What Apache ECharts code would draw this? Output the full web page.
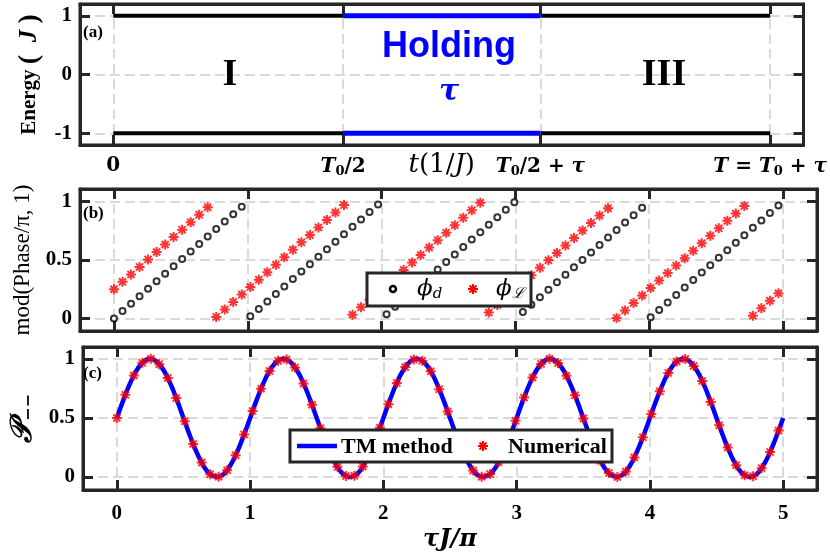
<!DOCTYPE html>
<html><head><meta charset="utf-8">
<script src="https://cdn.jsdelivr.net/npm/echarts@6/dist/echarts.min.js"></script>
<style>html,body{margin:0;padding:0;background:#fff}#c{width:830px;height:558px}</style>
</head><body><div id="c"></div>
<script>
// ---------- panel (a): time axis in units of T0/2 ----------
const keyTimes = [0, 1, 1.859, 2.859];
const keyLabels = ['0', 'T0/2', 'T0/2 + τ', 'T = T0 + τ'];
const segStart = [0, 1, 1.859];
const segEnd = [1, 1.859, 2.859];
const segKind = ['ramp', 'hold', 'ramp'];
const levels = [1, -1];
const energyTicks = [-1, 0, 1];
// ---------- panels (b),(c) ----------
const tauTicks = [0, 1, 2, 3, 4, 5];
const unitTicks = [0, 0.5, 1];
const tauX = [0,0.0637,0.1273,0.1910,0.2546,0.3183,0.3820,0.4456,0.5093,0.5730,
0.6366,0.7003,0.7639,0.8276,0.8913,0.9549,1.0186,1.0823,1.1459,1.2096,
1.2732,1.3369,1.4006,1.4642,1.5279,1.5915,1.6552,1.7189,1.7825,1.8462,
1.9099,1.9735,2.0372,2.1008,2.1645,2.2282,2.2918,2.3555,2.4192,2.4828,
2.5465,2.6101,2.6738,2.7375,2.8011,2.8648,2.9284,2.9921,3.0558,3.1194,
3.1831,3.2468,3.3104,3.3741,3.4377,3.5014,3.5651,3.6287,3.6924,3.7561,
3.8197,3.8834,3.9470,4.0107,4.0744,4.1380,4.2017,4.2654,4.3290,4.3927,
4.4563,4.5200,4.5837,4.6473,4.7110,4.7746,4.8383,4.9020,4.9656];
const phiD = [0,.064,.127,.191,.255,.318,.382,.446,.509,.573,
.637,.700,.764,.828,.891,.955,.019,.082,.146,.210,
.273,.337,.401,.464,.528,.592,.655,.719,.783,.846,
.910,.974,.037,.101,.165,.228,.292,.356,.419,.483,
.546,.610,.674,.737,.801,.865,.928,.992,.056,.119,
.183,.247,.310,.374,.438,.501,.565,.629,.692,.756,
.820,.883,.947,.011,.074,.138,.202,.265,.329,.393,
.456,.520,.584,.647,.711,.775,.838,.902,.966];
const phiL = [.250,.314,.377,.441,.505,.568,.632,.696,.759,.823,
.887,.950,.014,.078,.141,.205,.269,.332,.396,.460,
.523,.587,.651,.714,.778,.842,.905,.969,.033,.096,
.160,.224,.287,.351,.415,.478,.542,.606,.669,.733,
.797,.860,.924,.988,.051,.115,.178,.242,.306,.369,
.433,.497,.560,.624,.688,.751,.815,.879,.942,.006,
.070,.133,.197,.261,.324,.388,.452,.515,.579,.643,
.706,.770,.834,.897,.961,.025,.088,.152,.216];
const numP = [.500,.695,.859,.966,1.000,.955,.838,.668,.471,.279,
.122,.024,.002,.058,.184,.360,.558,.747,.897,.984,
.995,.927,.792,.611,.413,.228,.086,.009,.010,.089,
.232,.417,.616,.796,.930,.995,.983,.894,.743,.554,
.356,.181,.056,.002,.025,.124,.283,.475,.672,.841,
.957,1.000,.965,.856,.691,.496,.301,.137,.033,.000,
.047,.165,.337,.534,.725,.881,.977,.998,.940,.812,
.635,.437,.249,.100,.015,.006,.075,.211,.393];
const tmX = [0,0.05,0.1,0.15,0.2,0.25,0.3,0.35,0.4,0.45,0.5,0.55,0.6,0.65,0.7,0.75,0.8,0.85,0.9,0.95,
1,1.05,1.1,1.15,1.2,1.25,1.3,1.35,1.4,1.45,1.5,1.55,1.6,1.65,1.7,1.75,1.8,1.85,1.9,1.95,
2,2.05,2.1,2.15,2.2,2.25,2.3,2.35,2.4,2.45,2.5,2.55,2.6,2.65,2.7,2.75,2.8,2.85,2.9,2.95,
3,3.05,3.1,3.15,3.2,3.25,3.3,3.35,3.4,3.45,3.5,3.55,3.6,3.65,3.7,3.75,3.8,3.85,3.9,3.95,
4,4.05,4.1,4.15,4.2,4.25,4.3,4.35,4.4,4.45,4.5,4.55,4.6,4.65,4.7,4.75,4.8,4.85,4.9,4.95,5];
const tmP = [0.5,0.655,0.794,0.905,0.976,1,0.976,0.905,0.794,0.655,0.5,0.345,0.206,0.095,0.024,0,0.024,0.095,0.206,0.345,
0.5,0.655,0.794,0.905,0.976,1,0.976,0.905,0.794,0.655,0.5,0.345,0.206,0.095,0.024,0,0.024,0.095,0.206,0.345,
0.5,0.655,0.794,0.905,0.976,1,0.976,0.905,0.794,0.655,0.5,0.345,0.206,0.095,0.024,0,0.024,0.095,0.206,0.345,
0.5,0.655,0.794,0.905,0.976,1,0.976,0.905,0.794,0.655,0.5,0.345,0.206,0.095,0.024,0,0.024,0.095,0.206,0.345,
0.5,0.655,0.794,0.905,0.976,1,0.976,0.905,0.794,0.655,0.5,0.345,0.206,0.095,0.024,0,0.024,0.095,0.206,0.345,0.5];

// ---------- styling ----------
const boxColor = '#262626';
const gridLine = {color: '#dadada', width: 2, type: [10, 5]};
const SERIF = '"Liberation Serif", "Times New Roman", serif';
const MATH = '"DejaVu Serif", "Liberation Serif", serif';
const ASTER = 'path://M5,0L5,10M0,5L10,5M1.46,1.46L8.54,8.54M1.46,8.54L8.54,1.46';
const tickLab = {fontFamily: SERIF, fontWeight: 'bold', fontSize: 21, color: '#000'};
const mathRich = {
  t: {fontFamily: MATH, fontStyle: 'italic', fontWeight: 'bold', fontSize: 20, color: '#000'},
  s: {fontFamily: MATH, fontWeight: 'bold', fontSize: 13, color: '#000', padding: [9, 0, 0, 0]},
  n: {fontFamily: MATH, fontWeight: 'bold', fontSize: 20, color: '#000'}
};
function richTime(lbl) {
  if (lbl === '0') return '{n|0}';
  let out = '';
  lbl.split(/(T0|T|τ)/).filter(p => p !== '').forEach(p => {
    if (p === 'T0') out += '{t|T}{s|0}';
    else if (p === 'T' || p === 'τ') out += '{t|' + p + '}';
    else out += '{n|' + p + '}';
  });
  return out;
}

const grids = [
  {left: 80, top: 4, width: 737, height: 141},
  {left: 80, top: 189, width: 737, height: 142},
  {left: 80, top: 347, width: 737, height: 143}
].map(g => Object.assign(g, {show: true, borderWidth: 3, borderColor: boxColor, backgroundColor: 'transparent'}));

function axisBase(gridIndex, min, max, ticks, pos, primary) {
  return {
    type: 'value', gridIndex, min, max, position: pos,
    nameMoveOverlap: false,
    axisLine: {show: true, onZero: false, lineStyle: {color: boxColor, width: 3}},
    axisTick: {show: true, inside: true, length: 10, customValues: ticks, lineStyle: {color: boxColor, width: 3}},
    axisLabel: {show: false, customValues: ticks},
    splitLine: {show: primary, customValues: ticks, lineStyle: gridLine}
  };
}

const xMinA = -0.145, xMaxA = 3.004;
const xMinB = -0.254, xMaxB = 5.254;

const xAxes = [
  Object.assign(axisBase(0, xMinA, xMaxA, keyTimes, 'bottom', true), {
    axisLabel: {show: true, customValues: keyTimes, margin: 11,
      formatter: v => { const i = keyTimes.findIndex(t => Math.abs(t - v) < 1e-6); return i >= 0 ? richTime(keyLabels[i]) : ''; },
      rich: mathRich},
    name: '{i|t}{r|(1/}{i|J}{r|)}', nameLocation: 'middle', nameGap: 7,
    nameTextStyle: {rich: {
      i: {fontFamily: MATH, fontStyle: 'italic', fontSize: 26, color: '#000'},
      r: {fontFamily: MATH, fontSize: 26, color: '#000'}}}
  }),
  axisBase(0, xMinA, xMaxA, keyTimes, 'top', false),
  axisBase(1, xMinB, xMaxB, tauTicks, 'bottom', true),
  axisBase(1, xMinB, xMaxB, tauTicks, 'top', false),
  Object.assign(axisBase(2, xMinB, xMaxB, tauTicks, 'bottom', true), {
    axisLabel: Object.assign({show: true, customValues: tauTicks, margin: 13}, tickLab),
    name: '{i|τJ/π}', nameLocation: 'middle', nameGap: 38,
    nameTextStyle: {rich: {i: {fontFamily: MATH, fontStyle: 'italic', fontWeight: 'bold', fontSize: 24, color: '#000'}}}
  }),
  axisBase(2, xMinB, xMaxB, tauTicks, 'top', false)
];

const yAxes = [
  Object.assign(axisBase(0, -1.2, 1.2, energyTicks, 'left', true), {
    axisLabel: Object.assign({show: true, customValues: energyTicks, margin: 8}, tickLab),
    name: '{b|Energy }{p|(}{i|  J }{p|)}', nameLocation: 'middle', nameGap: 36, nameRotate: 90,
    nameTextStyle: {rich: {
      b: {fontFamily: SERIF, fontWeight: 'bold', fontSize: 21, color: '#000'},
      p: {fontFamily: SERIF, fontWeight: 'bold', fontSize: 28, color: '#000'},
      i: {fontFamily: SERIF, fontWeight: 'bold', fontStyle: 'italic', fontSize: 25, color: '#000'}}}
  }),
  axisBase(0, -1.2, 1.2, energyTicks, 'right', false),
  Object.assign(axisBase(1, -0.106, 1.106, unitTicks, 'left', true), {
    axisLabel: Object.assign({show: true, customValues: unitTicks, margin: 8}, tickLab),
    name: 'mod(Phase/π, 1)', nameLocation: 'middle', nameGap: 46, nameRotate: 90,
    nameTextStyle: {fontFamily: SERIF, fontSize: 23, color: '#000'}
  }),
  axisBase(1, -0.106, 1.106, unitTicks, 'right', false),
  Object.assign(axisBase(2, -0.11, 1.10, unitTicks, 'left', true), {
    axisLabel: Object.assign({show: true, customValues: unitTicks, margin: 8}, tickLab),
    name: '{p|𝒫}{s|−−}', nameLocation: 'middle', nameGap: 45, nameRotate: 90,
    nameTextStyle: {rich: {
      p: {fontFamily: MATH, fontStyle: 'italic', fontWeight: 'bold', fontSize: 30, color: '#000'},
      s: {fontFamily: MATH, fontWeight: 'bold', fontSize: 16, color: '#000', padding: [12, 0, 0, 0]}}}
  }),
  axisBase(2, -0.11, 1.10, unitTicks, 'right', false)
];

const series = [];
levels.forEach(lv => {
  segStart.forEach((s, i) => {
    const hold = segKind[i] === 'hold';
    series.push({
      type: 'line', xAxisIndex: 0, yAxisIndex: 0, symbol: 'none', silent: true,
      data: [[s, lv], [segEnd[i], lv]],
      lineStyle: {color: hold ? '#0000ff' : '#000', width: hold ? 5 : 4},
      z: hold ? 4 : 3
    });
  });
});
series.push({
  name: 'ϕd', type: 'scatter', xAxisIndex: 2, yAxisIndex: 2,
  data: tauX.map((x, i) => [x, phiD[i]]),
  symbol: 'emptyCircle', symbolSize: 6,
  itemStyle: {color: '#000', borderWidth: 2.5}
});
series.push({
  name: 'ϕℒ', type: 'scatter', xAxisIndex: 2, yAxisIndex: 2,
  data: tauX.map((x, i) => [x, phiL[i]]),
  symbol: ASTER, symbolSize: 10,
  itemStyle: {color: '#ff0000', borderColor: '#ff0000', borderWidth: 2}
});
series.push({
  name: 'TM method', type: 'line', xAxisIndex: 4, yAxisIndex: 4,
  data: tmX.map((x, i) => [x, tmP[i]]),
  symbol: 'none', smooth: true,
  lineStyle: {color: '#0000ff', width: 4.5}, itemStyle: {color: '#0000ff'}
});
series.push({
  name: 'Numerical', type: 'scatter', xAxisIndex: 4, yAxisIndex: 4,
  data: tauX.map((x, i) => [x, numP[i]]),
  symbol: ASTER, symbolSize: 10,
  itemStyle: {color: '#ff0000', borderColor: '#ff0000', borderWidth: 2}, z: 5
});

// ---------- hand-laid legends (boxes, keys, labels) ----------
const txt = (text, x, y, font, fill, align) => ({
  type: 'text', x, y, z: 12,
  style: {text, font, fill: fill || '#000', align: align || 'center', verticalAlign: 'middle',
          textAlign: align || 'center', textVerticalAlign: 'middle'}
});
const richTxt = (text, x, y, rich) => ({
  type: 'text', x, y, z: 12,
  style: {text, rich, align: 'left', verticalAlign: 'middle', textAlign: 'left', textVerticalAlign: 'middle'}
});
const legendRich = {
  m: {fontFamily: MATH, fontStyle: 'italic', fontSize: 23, color: '#000'},
  s: {fontFamily: MATH, fontStyle: 'italic', fontSize: 15, color: '#000', padding: [10, 0, 0, 0]},
  b: {fontFamily: SERIF, fontWeight: 'bold', fontSize: 22, color: '#000'}
};
const box = (x, y, w, h) => ({type: 'rect', z: 11, shape: {x, y, width: w, height: h},
  style: {fill: '#fff', stroke: boxColor, lineWidth: 3}});
const arm = (x1, y1, x2, y2) => ({type: 'line', z: 12, shape: {x1, y1, x2, y2},
  style: {stroke: '#ff0000', lineWidth: 2}});
const aster = (cx, cy) => ({type: 'group', children: [
  arm(cx, cy - 5, cx, cy + 5), arm(cx - 5, cy, cx + 5, cy),
  arm(cx - 3.5, cy - 3.5, cx + 3.5, cy + 3.5), arm(cx - 3.5, cy + 3.5, cx + 3.5, cy - 3.5)]});

const graphic = [
  txt('(a)', 83, 33, 'bold 17px ' + SERIF, '#000', 'left'),
  txt('(b)', 83, 214, 'bold 17px ' + SERIF, '#000', 'left'),
  txt('(c)', 83, 374, 'bold 17px ' + SERIF, '#000', 'left'),
  txt('I', 230, 75, 'bold 38px ' + SERIF),
  txt('III', 664, 75, 'bold 38px ' + SERIF),
  txt('Holding', 449, 47, 'bold 36px "Liberation Sans", Arial, sans-serif', '#0000ff'),
  txt('τ', 449, 92, 'italic bold 30px ' + MATH, '#0000ff'),
  // legend (b)
  box(367, 273, 164, 33),
  {type: 'circle', z: 12, shape: {cx: 393, cy: 289, r: 3}, style: {fill: '#fff', stroke: '#000', lineWidth: 2.5}},
  richTxt('{m|ϕ}{s|d}', 417, 289, legendRich),
  aster(473, 289),
  richTxt('{m|ϕ}{s|ℒ}', 496, 289, legendRich),
  // legend (c)
  box(290, 430, 322, 32),
  {type: 'line', z: 12, shape: {x1: 297, y1: 446, x2: 337, y2: 446}, style: {stroke: '#0000ff', lineWidth: 4.5}},
  richTxt('{b|TM method}', 341, 447, legendRich),
  aster(483, 446),
  richTxt('{b|Numerical}', 508, 447, legendRich)
];

const chart = echarts.init(document.getElementById('c'), null, {renderer: 'canvas'});
chart.setOption({
  animation: false,
  backgroundColor: '#fff',
  grid: grids, xAxis: xAxes, yAxis: yAxes,
  series, graphic
});
</script></body></html>
